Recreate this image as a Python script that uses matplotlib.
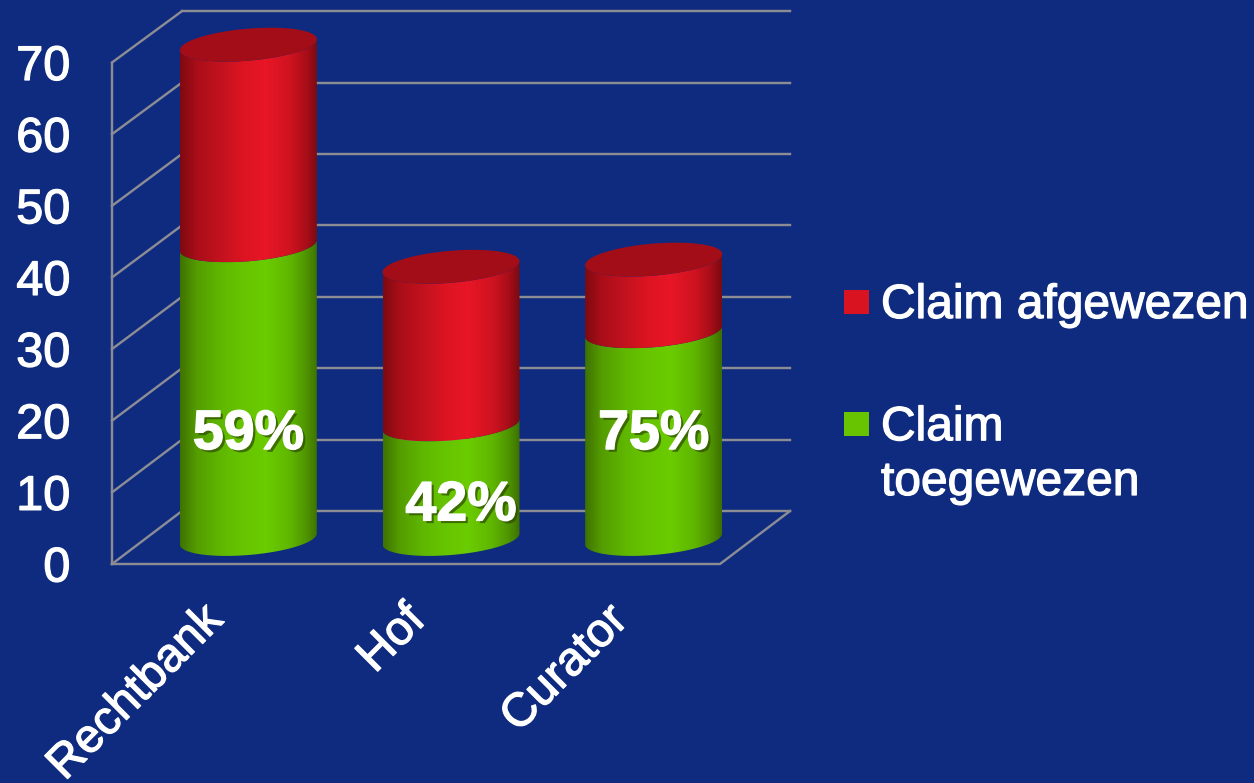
import numpy as np
import matplotlib
matplotlib.use("Agg")
import matplotlib.pyplot as plt
import matplotlib.patheffects as pe
from matplotlib.colors import LinearSegmentedColormap
from matplotlib.patches import Polygon, Rectangle
from matplotlib.transforms import ScaledTranslation

categories = ["Rechtbank", "Hof", "Curator"]
toegewezen = [41, 16, 29]
afgewezen = [28, 22, 10]
percent_labels = ["59%", "42%", "75%"]
percent_y = [18.0, 8.05, 18.0]
y_ticks = [0, 10, 20, 30, 40, 50, 60, 70]
legend_labels = ["Claim afgewezen", "Claim\ntoegewezen"]

W, H = 1254, 783
BG = "#0E2B80"
GRID = "#8C8C94"
plt.rcParams["font.family"] = ["Liberation Sans", "DejaVu Sans"]

fig = plt.figure(figsize=(W / 100, H / 100), dpi=100, facecolor=BG)
L, R, B, T = 112, 720, 564, 62.5
ax = fig.add_axes([L / W, 1 - B / H, (R - L) / W, (B - T) / H])
ax.patch.set_visible(False)
for s in ax.spines.values():
    s.set_visible(False)
ax.set_xlim(0, 3)
ax.set_ylim(0, 70)

px_x = 3 / (R - L)
px_y = 70 / (B - T)
DX, DY = 70 * px_x, 53 * px_y      # depth of the 3D box
lw = 2.4 * 0.72
thick = [pe.withStroke(linewidth=0.9, foreground="white")]

# walls and grid
for v in y_ticks:
    back = v + DY * (1 - 0.03 * v / 70)
    ax.plot([0, DX], [v, back], color=GRID, lw=lw, clip_on=False, zorder=1)
    ax.plot([DX, 3 + DX], [back, back], color=GRID, lw=lw, clip_on=False, zorder=1)
ax.plot([0, 0], [0, 70], color=GRID, lw=lw, clip_on=False, zorder=1)
ax.plot([0, 3, 3 + DX], [0, 0, DY], color=GRID, lw=lw, clip_on=False, zorder=1)

# cylinder shading
red_cm = LinearSegmentedColormap.from_list("r", [(0, "#7E0A12"), (0.12, "#A90E18"), (0.3, "#C4121F"),
                                                 (0.45, "#DC1422"), (0.62, "#E81626"), (0.8, "#D01320"),
                                                 (0.92, "#A70E18"), (1, "#7A0A12")])
green_cm = LinearSegmentedColormap.from_list("g", [(0, "#3F7200"), (0.12, "#549C00"), (0.3, "#60B800"),
                                                   (0.45, "#66C400"), (0.62, "#6BCC00"), (0.8, "#5FB600"),
                                                   (0.92, "#4E9300"), (1, "#3E7000")])
grad = np.linspace(0, 1, 256)[None, :]
t = np.linspace(0, 2 * np.pi, 180)
half_w = 68.5 * px_x
tilt = 5.5 * px_y
semi = 16 * px_y
base_dy = 25 * px_y
base_dx = 35 * px_x


def segment(cx, y0, y1, cmap, z):
    """Side of a cylinder slice between values y0 and y1."""
    a = np.linspace(0, np.pi, 90)          # front half, right to left
    xs = cx + half_w * np.cos(a)
    low = y0 + base_dy + tilt * np.cos(a) - semi * np.sin(a)
    high = y1 + base_dy + tilt * np.cos(a) - semi * np.sin(a)
    poly = Polygon(np.r_[np.c_[xs, low], np.c_[xs[::-1], high[::-1]]], closed=True,
                   transform=ax.transData, fc="none", ec="none", clip_on=False)
    ax.add_patch(poly)
    im = ax.imshow(grad, cmap=cmap, aspect="auto", zorder=z, interpolation="bilinear",
                   extent=[cx - half_w, cx + half_w, low.min(), high.max()])
    im.set_clip_box(fig.bbox)
    im.set_clip_path(poly)


for i, (g, r) in enumerate(zip(toegewezen, afgewezen)):
    cx = i + 0.5 + base_dx
    z = 3 + i
    segment(cx, 0, g, green_cm, z)
    segment(cx, g, g + r, red_cm, z + 0.1)
    top = g + r + base_dy
    ax.fill(cx + half_w * np.cos(t), top + tilt * np.cos(t) - semi * np.sin(t),
            color="#A30D18", lw=0, clip_on=False, zorder=z + 0.2)
ax.set_xlim(0, 3)
ax.set_ylim(0, 70)

# percentages
shadow = [pe.SimplePatchShadow(offset=(2, -2), shadow_rgbFace="#2C4A00", alpha=0.7),
          pe.withStroke(linewidth=1.0, foreground="white")]
x_shift = [0, 10, 0]
for i, (lab, y) in enumerate(zip(percent_labels, percent_y)):
    ax.text(i + 0.5 + base_dx + x_shift[i] * px_x, y, lab, color="white", fontsize=40, fontweight="bold",
            ha="center", va="center", zorder=10, path_effects=shadow, clip_on=False)

# axes
ax.set_yticks(y_ticks)
ax.set_xticks([0.5, 1.5, 2.5])
ax.set_xticklabels(categories)
ax.tick_params(axis="both", length=0, colors="white", labelsize=35)
ax.tick_params(axis="y", pad=30)
for lab in ax.get_yticklabels():
    lab.set_path_effects(thick)
for lab in ax.get_xticklabels():
    lab.set_rotation(45)
    lab.set_ha("right")
    lab.set_va("top")
    lab.set_rotation_mode("anchor")
    lab.set_fontsize(34)
    lab.set_path_effects(thick)
    lab.set_transform(lab.get_transform() + ScaledTranslation(-13 / 100, -29 / 100, fig.dpi_scale_trans))

# legend
swatches = [("#DA1321", 290, 318), ("#68C400", 412, 495)]
for (col, y, baseline), txt in zip(swatches, legend_labels):
    fig.add_artist(Rectangle((844 / W, 1 - (y + 24) / H), 25 / W, 24 / H, color=col, lw=0,
                             transform=fig.transFigure))
    fig.text(881 / W, 1 - baseline / H, txt, color="white", fontsize=34.5, ha="left",
             va="baseline", linespacing=1.28, path_effects=thick)

fig.savefig("out.png", dpi=100, facecolor=BG)
